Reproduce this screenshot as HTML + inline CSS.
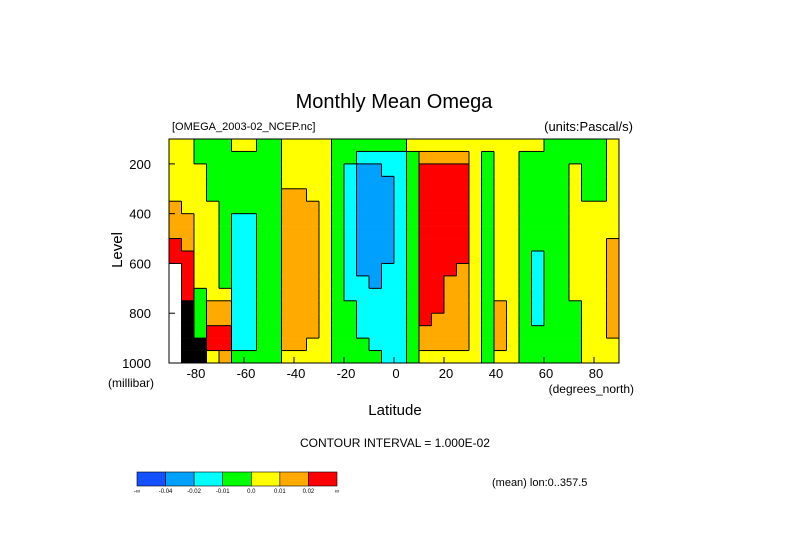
<!DOCTYPE html>
<html><head><meta charset="utf-8"><style>
body{margin:0;background:#fff;}
svg{display:block;font-family:"Liberation Sans",sans-serif;}
</style></head><body>
<svg id="chart" width="789" height="558" viewBox="0 0 789 558" xmlns="http://www.w3.org/2000/svg">
<rect width="789" height="558" fill="#fff"/>
<text x="394" y="108" font-size="20" text-anchor="middle" fill="#000">Monthly Mean Omega</text>
<text x="172" y="130" font-size="11" fill="#000">[OMEGA_2003-02_NCEP.nc]</text>
<text x="633" y="131" font-size="13" text-anchor="end" fill="#000">(units:Pascal/s)</text>
<g id="cells"></g>
<g id="lines"></g>
<rect x="169" y="139" width="450" height="224" fill="none" stroke="#000" stroke-width="1"/>
<g id="axes"></g>
<text transform="translate(122,250) rotate(-90)" font-size="15" text-anchor="middle" fill="#000">Level</text>
<text x="108" y="387" font-size="12" fill="#000">(millibar)</text>
<text x="634" y="393" font-size="12" text-anchor="end" fill="#000">(degrees_north)</text>
<text x="395" y="415" font-size="15" text-anchor="middle" fill="#000">Latitude</text>
<text x="395" y="447" font-size="12" text-anchor="middle" fill="#000">CONTOUR INTERVAL = 1.000E-02</text>
<g id="colorbar"></g>
<text x="492" y="486" font-size="11" fill="#000">(mean) lon:0..357.5</text>
</svg>
<script>
// latitude column starts (deg), level edges (mb)
const latStarts = [-90,-85,-80,-75,-70,-65,-60,-55,-50,-45,-40,-35,-30,-25,-20,-15,-10,-5,0,5,10,15,20,25,30,35,40,45,50,55,60,65,70,75,80,85];
const levelTops = [100,150,200,250,300,350,400,450,500,550,600,650,700,750,800,850,900,950];
const yTicks = [200,400,600,800,1000];
const xTicks = [-80,-60,-40,-20,0,20,40,60,80];
const contourEdges = [-4,-2,-1,0,1,2];
const legendLabels = ["-∞","-0.04","-0.02","-0.01","0.0","0.01","0.02","∞"];
// omega (x0.01 Pa/s) per latitude column, top->bottom; null = missing, 9 = dense contours
const omegaByLat = [
[0.5,0.5,0.5,0.5,0.5,1.5,1.5,1.5,3,3,null,null,null,null,null,null,null,null],
[0.5,0.5,0.5,0.5,0.5,0.5,1.5,1.5,1.5,3,3,3,3,9,9,9,9,9],
[-0.5,-0.5,0.5,0.5,0.5,0.5,0.5,0.5,0.5,0.5,0.5,0.5,-0.5,-0.5,-0.5,-0.5,9,9],
[-0.5,-0.5,-0.5,-0.5,-0.5,0.5,0.5,0.5,0.5,0.5,0.5,0.5,0.5,1.5,1.5,3,3,0.5],
[-0.5,-0.5,-0.5,-0.5,-0.5,-0.5,-0.5,-0.5,-0.5,-0.5,-0.5,-0.5,0.5,1.5,1.5,3,3,1.5],
[0.5,-0.5,-0.5,-0.5,-0.5,-0.5,-1.5,-1.5,-1.5,-1.5,-1.5,-1.5,-1.5,-1.5,-1.5,-1.5,-1.5,-0.5],
[0.5,-0.5,-0.5,-0.5,-0.5,-0.5,-1.5,-1.5,-1.5,-1.5,-1.5,-1.5,-1.5,-1.5,-1.5,-1.5,-1.5,-0.5],
[-0.5,-0.5,-0.5,-0.5,-0.5,-0.5,-0.5,-0.5,-0.5,-0.5,-0.5,-0.5,-0.5,-0.5,-0.5,-0.5,-0.5,-0.5],
[-0.5,-0.5,-0.5,-0.5,-0.5,-0.5,-0.5,-0.5,-0.5,-0.5,-0.5,-0.5,-0.5,-0.5,-0.5,-0.5,-0.5,-0.5],
[0.5,0.5,0.5,0.5,1.5,1.5,1.5,1.5,1.5,1.5,1.5,1.5,1.5,1.5,1.5,1.5,1.5,0.5],
[0.5,0.5,0.5,0.5,1.5,1.5,1.5,1.5,1.5,1.5,1.5,1.5,1.5,1.5,1.5,1.5,1.5,0.5],
[0.5,0.5,0.5,0.5,0.5,1.5,1.5,1.5,1.5,1.5,1.5,1.5,1.5,1.5,1.5,1.5,0.5,0.5],
[0.5,0.5,0.5,0.5,0.5,0.5,0.5,0.5,0.5,0.5,0.5,0.5,0.5,0.5,0.5,0.5,0.5,0.5],
[-0.5,-0.5,-0.5,-0.5,-0.5,-0.5,-0.5,-0.5,-0.5,-0.5,-0.5,-0.5,-0.5,-0.5,-0.5,-0.5,-0.5,-0.5],
[-0.5,-0.5,-1.5,-1.5,-1.5,-1.5,-1.5,-1.5,-1.5,-1.5,-1.5,-1.5,-1.5,-0.5,-0.5,-0.5,-0.5,-0.5],
[-0.5,-1.5,-3,-3,-3,-3,-3,-3,-3,-3,-3,-1.5,-1.5,-1.5,-1.5,-1.5,-0.5,-0.5],
[-0.5,-1.5,-3,-3,-3,-3,-3,-3,-3,-3,-3,-3,-1.5,-1.5,-1.5,-1.5,-1.5,-0.5],
[-0.5,-1.5,-1.5,-3,-3,-3,-3,-3,-3,-3,-1.5,-1.5,-1.5,-1.5,-1.5,-1.5,-1.5,-1.5],
[-0.5,-1.5,-1.5,-1.5,-1.5,-1.5,-1.5,-1.5,-1.5,-1.5,-1.5,-1.5,-1.5,-1.5,-1.5,-1.5,-1.5,-1.5],
[0.5,-0.5,-0.5,-0.5,-0.5,-0.5,-0.5,-0.5,-0.5,-0.5,-0.5,-0.5,-0.5,-0.5,-0.5,-0.5,-0.5,-0.5],
[0.5,1.5,3,3,3,3,3,3,3,3,3,3,3,3,3,1.5,1.5,0.5],
[0.5,1.5,3,3,3,3,3,3,3,3,3,3,3,3,1.5,1.5,1.5,0.5],
[0.5,1.5,3,3,3,3,3,3,3,3,3,1.5,1.5,1.5,1.5,1.5,1.5,0.5],
[0.5,1.5,3,3,3,3,3,3,3,3,1.5,1.5,1.5,1.5,1.5,1.5,1.5,0.5],
[0.5,0.5,0.5,0.5,0.5,0.5,0.5,0.5,0.5,0.5,0.5,0.5,0.5,0.5,0.5,0.5,0.5,0.5],
[0.5,-0.5,-0.5,-0.5,-0.5,-0.5,-0.5,-0.5,-0.5,-0.5,-0.5,-0.5,-0.5,-0.5,-0.5,-0.5,-0.5,-0.5],
[0.5,0.5,0.5,0.5,0.5,0.5,0.5,0.5,0.5,0.5,0.5,0.5,0.5,1.5,1.5,1.5,1.5,0.5],
[0.5,0.5,0.5,0.5,0.5,0.5,0.5,0.5,0.5,0.5,0.5,0.5,0.5,0.5,0.5,0.5,0.5,0.5],
[0.5,-0.5,-0.5,-0.5,-0.5,-0.5,-0.5,-0.5,-0.5,-0.5,-0.5,-0.5,-0.5,-0.5,-0.5,-0.5,-0.5,-0.5],
[0.5,-0.5,-0.5,-0.5,-0.5,-0.5,-0.5,-0.5,-0.5,-1.5,-1.5,-1.5,-1.5,-1.5,-1.5,-0.5,-0.5,-0.5],
[-0.5,-0.5,-0.5,-0.5,-0.5,-0.5,-0.5,-0.5,-0.5,-0.5,-0.5,-0.5,-0.5,-0.5,-0.5,-0.5,-0.5,-0.5],
[-0.5,-0.5,-0.5,-0.5,-0.5,-0.5,-0.5,-0.5,-0.5,-0.5,-0.5,-0.5,-0.5,-0.5,-0.5,-0.5,-0.5,-0.5],
[-0.5,-0.5,0.5,0.5,0.5,0.5,0.5,0.5,0.5,0.5,0.5,0.5,0.5,-0.5,-0.5,-0.5,-0.5,-0.5],
[-0.5,-0.5,-0.5,-0.5,-0.5,0.5,0.5,0.5,0.5,0.5,0.5,0.5,0.5,0.5,0.5,0.5,0.5,0.5],
[-0.5,-0.5,-0.5,-0.5,-0.5,0.5,0.5,0.5,0.5,0.5,0.5,0.5,0.5,0.5,0.5,0.5,0.5,0.5],
[0.5,0.5,0.5,0.5,0.5,0.5,0.5,0.5,1.5,1.5,1.5,1.5,1.5,1.5,1.5,1.5,0.5,0.5]
];
const palette = ["#1450ff","#00a0ff","#00ffff","#00ff00","#ffff00","#ffaa00","#ff0000"];

const NS = "http://www.w3.org/2000/svg";
const X0 = 169, X1 = 619, Y0 = 139, Y1 = 363;
const xScale = lat => X0 + (lat + 90) / 180 * (X1 - X0);
const yScale = p => Y0 + (p - 100) / 900 * (Y1 - Y0);
function mk(tag, attrs, parent){const e=document.createElementNS(NS,tag);for(const k in attrs)e.setAttribute(k,attrs[k]);parent.appendChild(e);return e;}
function cat(v){ if(v===null) return -1; if(v>=9) return 99; let c=0; for(const e of contourEdges){ if(v>=e) c++; } return c; }
function fillOf(v){ const c=cat(v); if(c===-1) return "#ffffff"; if(c===99) return "#000000"; return palette[c]; }

const cells = document.getElementById("cells");
const lines = document.getElementById("lines");
const step = 5, pstep = 50;
omegaByLat.forEach((col, i) => {
  const lat = latStarts[i];
  col.forEach((v, j) => {
    const p = levelTops[j];
    const x = xScale(lat), y = yScale(p);
    const r = mk("rect", {x:x, y:y, width:xScale(lat+step)-x+0.3, height:yScale(p+pstep)-y+0.3, fill:fillOf(v)}, cells);
    
    
    if (i < omegaByLat.length-1 && cat(omegaByLat[i+1][j]) !== cat(v)) {
      const xx = xScale(lat+step);
      const l = mk("line", {x1:xx, x2:xx, y1:y, y2:yScale(p+pstep), stroke:"#000", "stroke-width":1}, lines);
      
      
    }
    if (j < col.length-1 && cat(col[j+1]) !== cat(v)) {
      const yy = yScale(p+pstep);
      const l = mk("line", {x1:x, x2:xScale(lat+step), y1:yy, y2:yy, stroke:"#000", "stroke-width":1}, lines);
      
      
    }
  });
});

const axes = document.getElementById("axes");
yTicks.forEach(t => {
  const y = yScale(t);
  const tk = mk("line", {x1:X0, x2:X0+6, y1:y, y2:y, stroke:"#000"}, axes);
  
  
  const tx = mk("text", {x:151, y:y+5, "font-size":13, "text-anchor":"end", fill:"#000"}, axes);
  tx.textContent = t;
  
  
});
xTicks.forEach(t => {
  const x = xScale(t);
  const tk = mk("line", {x1:x, x2:x, y1:Y1, y2:Y1-6, stroke:"#000"}, axes);
  
  
  const tx = mk("text", {x:x+2, y:Y1+15, "font-size":13, "text-anchor":"middle", fill:"#000"}, axes);
  tx.textContent = t;
  
  
});

const cb = document.getElementById("colorbar");
const cbX = 137, cbW = 200, cbY = 472, cbH = 14, bw = cbW / palette.length;
palette.forEach((c, i) => {
  const r = mk("rect", {x:cbX+i*bw, y:cbY, width:bw, height:cbH, fill:c, stroke:"#000", "stroke-width":0.6}, cb);
  
  
});
legendLabels.forEach((s, i) => {
  const t = mk("text", {x:cbX+i*bw, y:cbY+cbH+7, "font-size":6, "text-anchor":"middle", fill:"#000"}, cb);
  t.textContent = s;
  
  
});
</script>
</body></html>
